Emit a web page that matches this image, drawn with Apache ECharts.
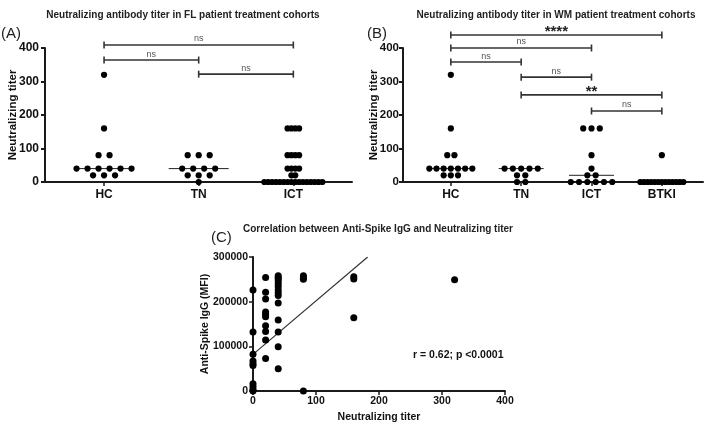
<!DOCTYPE html>
<html><head><meta charset="utf-8">
<script src="https://cdn.jsdelivr.net/npm/echarts@6/dist/echarts.min.js"></script>
<style>html,body{margin:0;padding:0;background:#fff}#c{width:709px;height:424px}</style>
</head><body><div id="c"></div>
<script>
// ---------- data ----------
const catsA = ['HC', 'TN', 'ICT'];
const hcA  = [320, 160, 80, 80, 40, 40, 40, 40, 40, 40, 20, 20, 20];
const tnA  = [80, 80, 80, 40, 40, 40, 40, 20, 20, 20, 0];
const ictA = [160, 160, 160, 160, 80, 80, 80, 80, 40, 40, 40, 40, 20, 20,
              0, 0, 0, 0, 0, 0, 0, 0, 0, 0, 0, 0, 0, 0, 0, 0];
const compPairsA = [[0, 2], [0, 1], [1, 2]];
const compLabelsA = ['ns', 'ns', 'ns'];

const catsB = ['HC', 'TN', 'ICT', 'BTKI'];
const hcB   = [320, 160, 80, 80, 40, 40, 40, 40, 40, 40, 40, 20, 20, 20];
const tnB   = [40, 40, 40, 40, 40, 20, 20, 0, 0];
const ictB  = [160, 160, 160, 80, 40, 20, 20, 0, 0, 0, 0, 0, 0];
const btkiB = [80, 0, 0, 0, 0, 0, 0, 0, 0, 0, 0, 0, 0, 0];
const compPairsB = [[0, 3], [0, 2], [0, 1], [1, 2], [1, 3], [2, 3]];
const compLabelsB = ['****', 'ns', 'ns', 'ns', '**', 'ns'];

// Panel C: neutralizing titer (x) vs anti-spike IgG MFI (y)
const titerC = [0,0,0,0,0,0,0,0,0,0,
  20,20,20,20,20,20,20,20,20,20,
  40,40,40,40,40,40,40,40,40,40,40,40,40,40,
  80,80,80,80, 160,160,160, 320];
const iggC = [226000,132000,82000,67000,61000,57000,16000,10000,4000,0,
  254000,221000,206000,177000,172000,166000,146000,133000,114000,73000,
  258000,254000,251000,246000,240000,234000,226000,220000,214000,197000,159000,132000,99000,50000,
  258000,254000,250000,0, 256000,251000,164000, 249000];
const fitLineC = [[0, 82000], [182, 300000]];
const statTextC = 'r = 0.62; p <0.0001';

// ---------- layout ----------
const bracketLevelsA = [409, 364, 322];
const bracketLevelsB = [439, 400, 358, 313, 260, 212];
const FONT = 'Liberation Sans, Arial, Helvetica, sans-serif';

function swarm(groups, base, maxW) {
  const pts = [];
  groups.forEach((vals, ci) => {
    const counts = {};
    vals.forEach(v => counts[v] = (counts[v] || 0) + 1);
    const maxN = Math.max(...Object.values(counts));
    const sp = maxN > 1 ? Math.min(base, maxW / (maxN - 1)) : base;
    Object.keys(counts).forEach(k => {
      const n = counts[k];
      for (let i = 0; i < n; i++) pts.push([ci, +k, (i - (n - 1) / 2) * sp]);
    });
  });
  return pts;
}
function median(a) {
  const s = a.slice().sort((x, y) => x - y), n = s.length;
  return n % 2 ? s[(n - 1) / 2] : (s[n / 2 - 1] + s[n / 2]) / 2;
}

const axisCol = '#1a1a1a';
function catXAxis(gi, cats, min, max) {
  const idx = cats.map((c, i) => i);
  return {
    gridIndex: gi, type: 'value', min: min, max: max,
    splitLine: { show: false },
    axisLine: { show: true, onZero: false, lineStyle: { color: axisCol, width: 2 } },
    axisTick: { show: true, customValues: idx, length: 4, lineStyle: { color: axisCol, width: 1.5 } },
    axisLabel: { customValues: idx, formatter: v => cats[Math.round(v)], color: '#111',
      fontFamily: FONT, fontWeight: 'bold', fontSize: 12, margin: 7 }
  };
}
function titerYAxis(gi, gap, labelSize, labelMargin) {
  return {
    gridIndex: gi, type: 'value', min: 0, max: 400, interval: 100,
    name: 'Neutralizing titer', nameLocation: 'middle', nameGap: gap, nameMoveOverlap: false,
    nameTextStyle: { fontFamily: FONT, fontWeight: 'bold', fontSize: 11.5, color: '#111' },
    splitLine: { show: false },
    axisLine: { show: true, onZero: false, lineStyle: { color: axisCol, width: 2 } },
    axisTick: { show: true, length: 4, lineStyle: { color: axisCol, width: 2 } },
    axisLabel: { color: '#111', fontFamily: FONT, fontWeight: 'bold', fontSize: labelSize, margin: labelMargin }
  };
}
function dotSeries(gi, pts) {
  return {
    type: 'custom', xAxisIndex: gi, yAxisIndex: gi, clip: false,
    dimensions: ['c', 'v', 'o'], encode: { x: 0, y: 1 },
    data: pts,
    renderItem: (params, api) => {
      const p = api.coord([api.value(0), api.value(1)]);
      return { type: 'circle', shape: { cx: p[0] + api.value(2), cy: p[1], r: 3.1 }, style: { fill: '#000' } };
    }
  };
}
function medianSeries(gi, groups, w) {
  return {
    type: 'custom', xAxisIndex: gi, yAxisIndex: gi, clip: false,
    encode: { x: 0, y: 1 },
    data: groups.map((g, i) => [i, median(g)]),
    renderItem: (params, api) => {
      const p = api.coord([api.value(0), api.value(1)]);
      return { type: 'line', shape: { x1: p[0] - w / 2, y1: p[1], x2: p[0] + w / 2, y2: p[1] },
        style: { stroke: '#222', lineWidth: 1 } };
    }
  };
}
function bracketSeries(gi, pairs, labels, levels) {
  return {
    type: 'custom', xAxisIndex: gi, yAxisIndex: gi, clip: false, z: 5,
    encode: { x: [0, 1], y: 2 },
    data: pairs.map((p, i) => [p[0], p[1], levels[i]]),
    renderItem: (params, api) => {
      const a = api.coord([api.value(0), api.value(2)]);
      const b = api.coord([api.value(1), api.value(2)]);
      const lab = labels[params.dataIndex];
      const star = lab.indexOf('*') >= 0;
      const st = { stroke: '#333', lineWidth: 1.6 };
      return { type: 'group', children: [
        { type: 'line', shape: { x1: a[0], y1: a[1], x2: b[0], y2: b[1] }, style: st },
        { type: 'line', shape: { x1: a[0], y1: a[1] - 3.5, x2: a[0], y2: a[1] + 3.5 }, style: st },
        { type: 'line', shape: { x1: b[0], y1: b[1] - 3.5, x2: b[0], y2: b[1] + 3.5 }, style: st },
        { type: 'text', style: { text: lab, x: (a[0] + b[0]) / 2, y: a[1] - (star ? 3 : 6),
          align: 'center', verticalAlign: 'middle',
          font: star ? ('bold 15px ' + FONT) : ('9px ' + FONT), fill: star ? '#222' : '#555' } }
      ] };
    }
  };
}

const groupsA = [hcA, tnA, ictA];
const groupsB = [hcB, tnB, ictB, btkiB];

const option = {
  animation: false,
  backgroundColor: '#fff',
  grid: [
    { left: 45, top: 48, width: 307, height: 134 },
    { left: 403, top: 48, width: 300, height: 134 },
    { left: 253, top: 257, width: 252, height: 136 }
  ],
  xAxis: [
    catXAxis(0, catsA, -0.624, 2.62),
    catXAxis(1, catsB, -0.68, 3.585),
    { gridIndex: 2, type: 'value', min: 0, max: 400, interval: 100,
      name: 'Neutralizing titer', nameLocation: 'middle', nameGap: 21, nameMoveOverlap: false,
      nameTextStyle: { fontFamily: FONT, fontWeight: 'bold', fontSize: 10.5, color: '#111' },
      splitLine: { show: false },
      axisLine: { show: true, onZero: false, lineStyle: { color: axisCol, width: 2 } },
      axisTick: { show: true, length: 4, lineStyle: { color: axisCol, width: 1.5 } },
      axisLabel: { color: '#111', fontFamily: FONT, fontWeight: 'bold', fontSize: 10.5, margin: 5 } }
  ],
  yAxis: [
    titerYAxis(0, 26, 12, 6),
    titerYAxis(1, 23, 11.5, 4),
    { gridIndex: 2, type: 'value', min: 0, max: 300000, interval: 100000,
      name: 'Anti-Spike IgG (MFI)', nameLocation: 'middle', nameGap: 42, nameMoveOverlap: false,
      nameTextStyle: { fontFamily: FONT, fontWeight: 'bold', fontSize: 10.5, color: '#111' },
      splitLine: { show: false },
      axisLine: { show: true, onZero: false, lineStyle: { color: axisCol, width: 2 } },
      axisTick: { show: true, length: 4, lineStyle: { color: axisCol, width: 1.5 } },
      axisLabel: { color: '#111', fontFamily: FONT, fontWeight: 'bold', fontSize: 10.5, margin: 5,
        formatter: v => String(v) } }
  ],
  series: [
    medianSeries(0, groupsA, 60),
    dotSeries(0, swarm(groupsA, 11, 58)),
    bracketSeries(0, compPairsA, compLabelsA, bracketLevelsA),
    medianSeries(1, groupsB, 45),
    dotSeries(1, swarm(groupsB, 8.3, 43)),
    bracketSeries(1, compPairsB, compLabelsB, bracketLevelsB),
    { type: 'line', xAxisIndex: 2, yAxisIndex: 2, data: fitLineC, symbol: 'none',
      lineStyle: { color: '#333', width: 1.2 }, z: 1 },
    { type: 'scatter', xAxisIndex: 2, yAxisIndex: 2, symbolSize: 7, clip: false,
      data: titerC.map((t, i) => [t, iggC[i]]), itemStyle: { color: '#000', opacity: 1 }, z: 3 }
  ],
  graphic: [
    { type: 'text', x: 183, y: 15, style: { text: 'Neutralizing antibody titer in FL patient treatment cohorts',
      align: 'center', verticalAlign: 'middle', font: 'bold 10px ' + FONT, fill: '#222' } },
    { type: 'text', x: 556, y: 15, style: { text: 'Neutralizing antibody titer in WM patient treatment cohorts',
      align: 'center', verticalAlign: 'middle', font: 'bold 10px ' + FONT, fill: '#222' } },
    { type: 'text', x: 378, y: 229, style: { text: 'Correlation between Anti-Spike IgG and Neutralizing titer',
      align: 'center', verticalAlign: 'middle', font: 'bold 10px ' + FONT, fill: '#222' } },
    { type: 'text', x: 1, y: 34, style: { text: '(A)', verticalAlign: 'middle', font: '15px ' + FONT, fill: '#222' } },
    { type: 'text', x: 367, y: 34, style: { text: '(B)', verticalAlign: 'middle', font: '15px ' + FONT, fill: '#222' } },
    { type: 'text', x: 211, y: 238, style: { text: '(C)', verticalAlign: 'middle', font: '15px ' + FONT, fill: '#222' } },
    { type: 'text', x: 413, y: 355, style: { text: statTextC, verticalAlign: 'middle', font: 'bold 10.5px ' + FONT, fill: '#111' } }
  ]
};
const chart = echarts.init(document.getElementById('c'), null, { renderer: 'canvas' });
chart.setOption(option);
</script></body></html>
